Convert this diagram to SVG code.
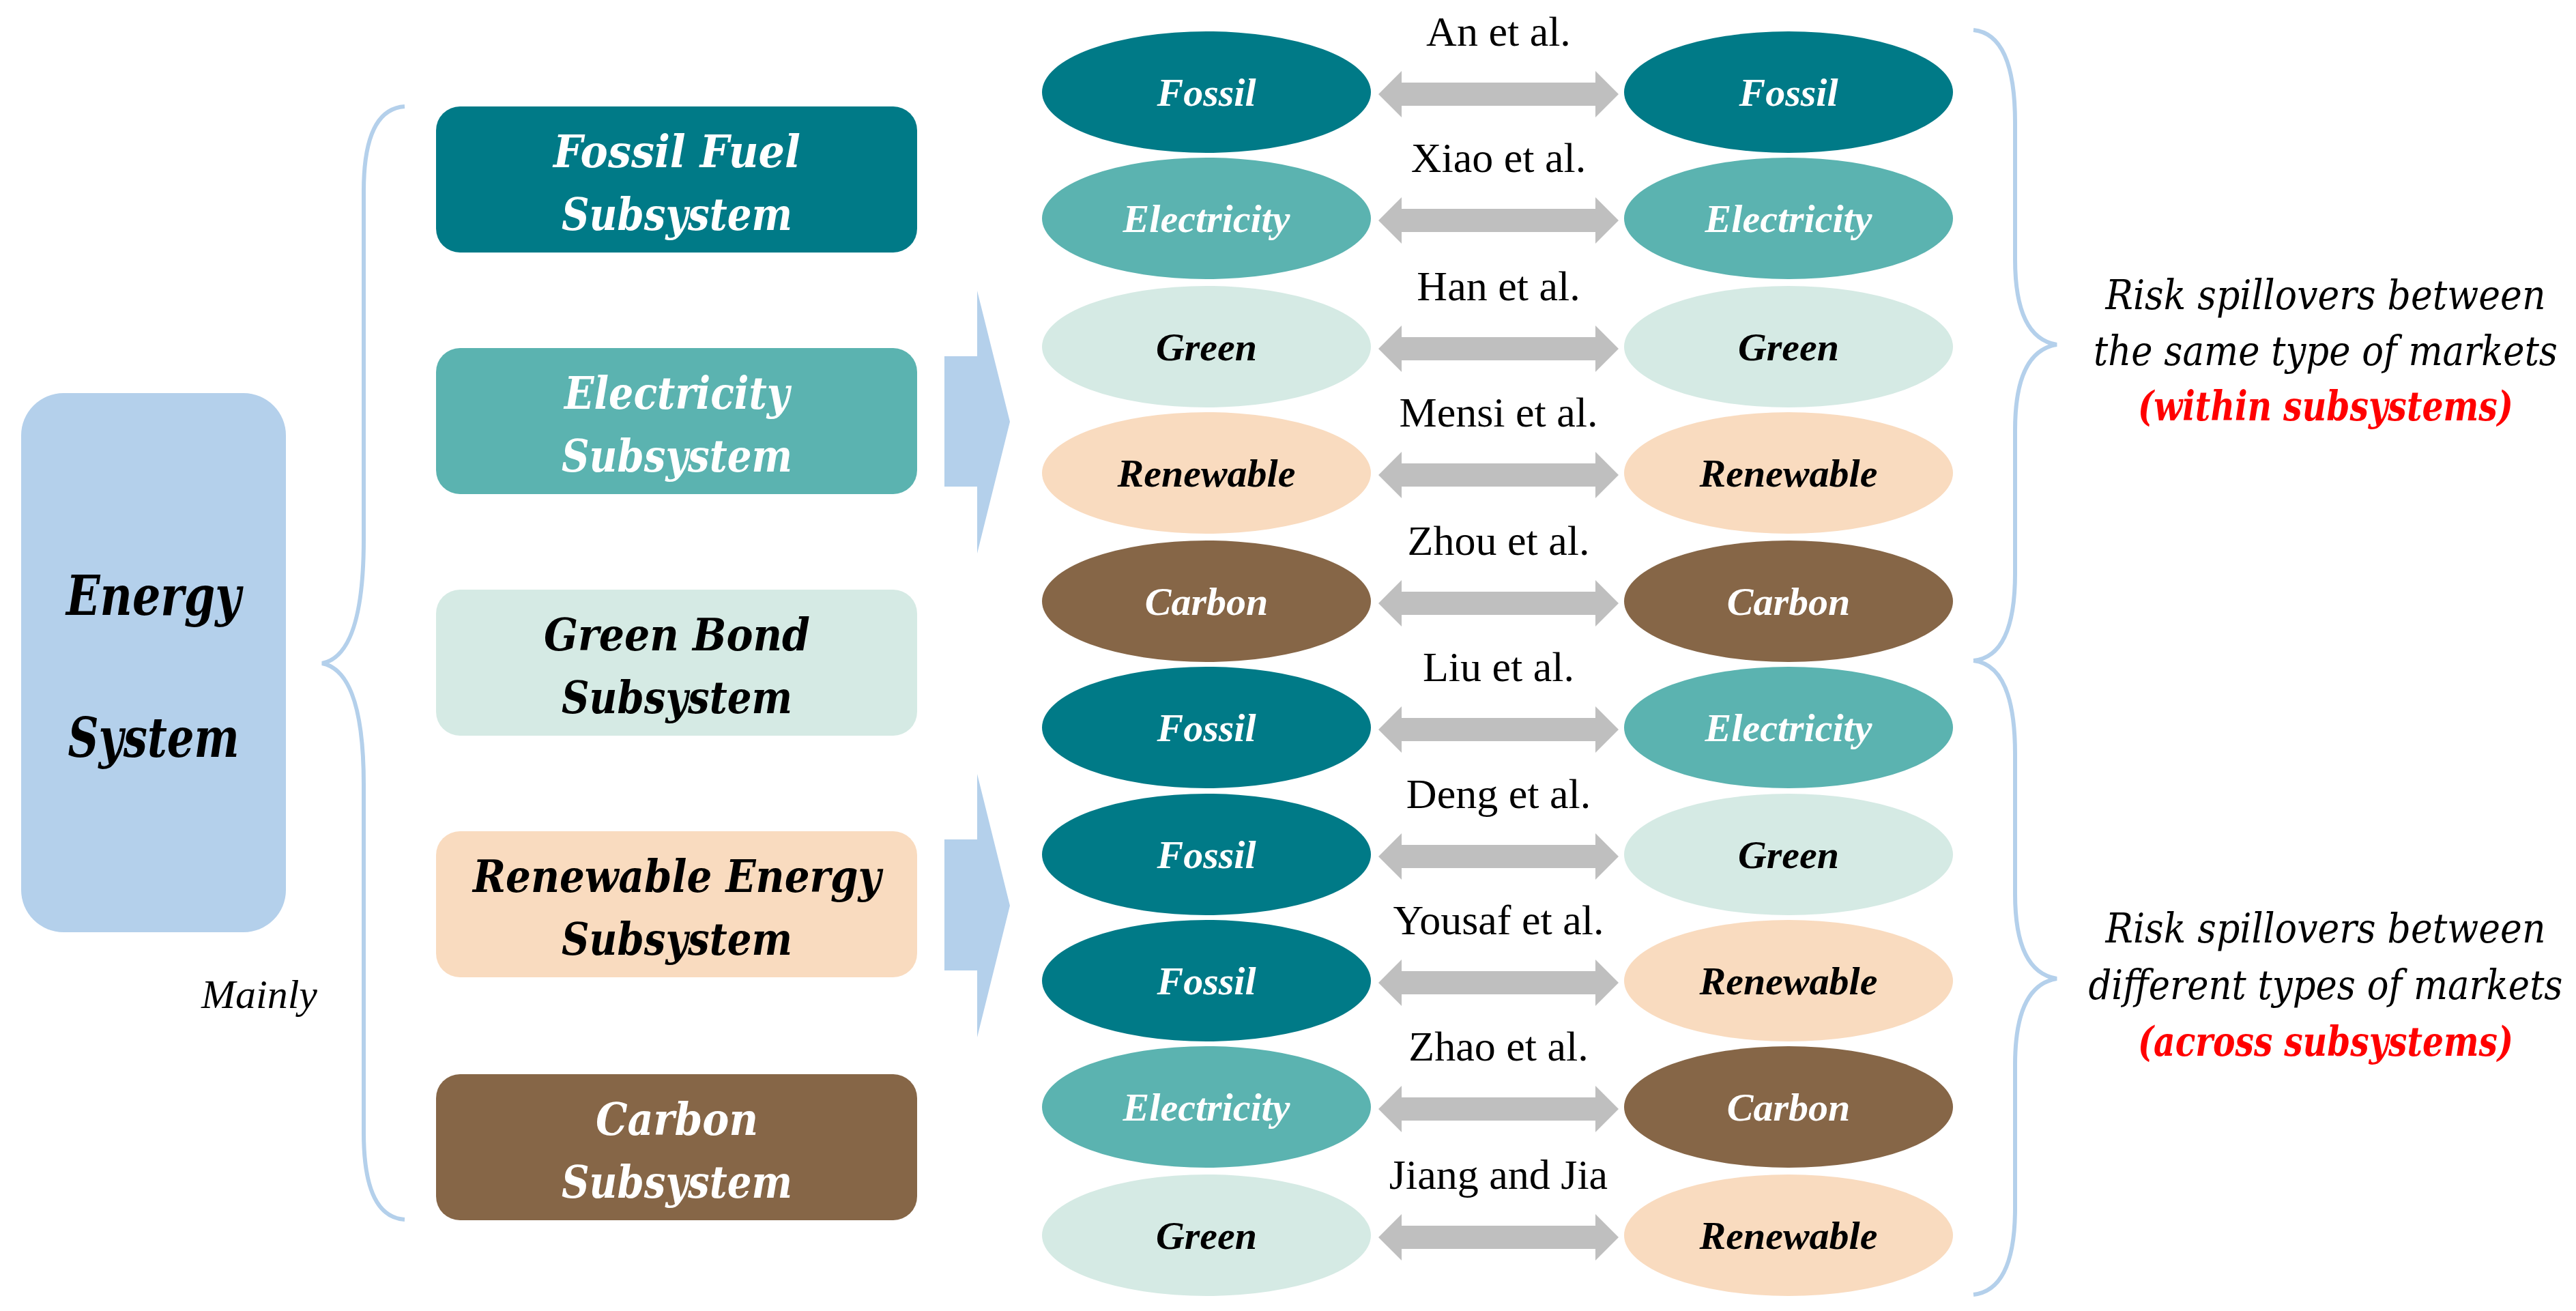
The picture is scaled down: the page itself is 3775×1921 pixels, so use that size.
<svg xmlns="http://www.w3.org/2000/svg" width="3775" height="1921" viewBox="0 0 3775 1921">
<style>
.bk{font-family:"DejaVu Serif",serif;font-style:italic;font-weight:bold;text-anchor:middle}
.ti{font-family:"Liberation Serif",serif;font-style:italic;font-weight:bold;font-size:58px;text-anchor:middle}
.lab{font-family:"Liberation Serif",serif;font-size:62px;text-anchor:middle;fill:#000}
.note{font-family:"DejaVu Serif",serif;font-style:italic;font-size:60px;text-anchor:middle}
.br{fill:none;stroke:#B4D0EB;stroke-width:6}
.w{fill:#fff}.k{fill:#000}
.fo{fill:#007A87}.el{fill:#5BB3B0}.gr{fill:#D5EAE4}.re{fill:#F9DBBF}.ca{fill:#866647}
</style>
<defs>
<path id="dar" d="M-176,0 L-142,-34 L-142,-17 L142,-17 L142,-34 L176,0 L142,34 L142,17 L-142,17 L-142,34 Z" fill="#BFBFBF"/>
</defs>
<rect width="3775" height="1921" fill="#fff"/>
<g id="energy">
<rect x="31" y="576" width="388" height="790" rx="62" fill="#B4D0EB"/>
<text class="bk k" x="225" y="901" font-size="80" textLength="256" lengthAdjust="spacingAndGlyphs">Energy</text>
<text class="bk k" x="225" y="1109" font-size="80" textLength="251" lengthAdjust="spacingAndGlyphs">System</text>
</g>
<g id="mainly"><text x="380" y="1477" font-family="Liberation Serif,serif" font-style="italic" font-size="60" text-anchor="middle">Mainly</text></g>
<g id="sub-fossil">
<rect x="639" y="156" width="705" height="214" rx="35" class="fo"/>
<text class="bk w" x="992" y="245" font-size="66" textLength="362" lengthAdjust="spacingAndGlyphs">Fossil Fuel</text>
<text class="bk w" x="992" y="337" font-size="66" textLength="338" lengthAdjust="spacingAndGlyphs">Subsystem</text>
</g>
<g id="sub-elec">
<rect x="639" y="510" width="705" height="214" rx="35" class="el"/>
<text class="bk w" x="992" y="599" font-size="66" textLength="330" lengthAdjust="spacingAndGlyphs">Electricity</text>
<text class="bk w" x="992" y="691" font-size="66" textLength="338" lengthAdjust="spacingAndGlyphs">Subsystem</text>
</g>
<g id="sub-green">
<rect x="639" y="864" width="705" height="214" rx="35" class="gr"/>
<text class="bk k" x="992" y="953" font-size="66" textLength="390" lengthAdjust="spacingAndGlyphs">Green Bond</text>
<text class="bk k" x="992" y="1045" font-size="66" textLength="338" lengthAdjust="spacingAndGlyphs">Subsystem</text>
</g>
<g id="sub-renew">
<rect x="639" y="1218" width="705" height="214" rx="35" class="re"/>
<text class="bk k" x="992" y="1307" font-size="66" textLength="598" lengthAdjust="spacingAndGlyphs">Renewable Energy</text>
<text class="bk k" x="992" y="1399" font-size="66" textLength="338" lengthAdjust="spacingAndGlyphs">Subsystem</text>
</g>
<g id="sub-carbon">
<rect x="639" y="1574" width="705" height="214" rx="35" class="ca"/>
<text class="bk w" x="992" y="1663" font-size="66" textLength="238" lengthAdjust="spacingAndGlyphs">Carbon</text>
<text class="bk w" x="992" y="1755" font-size="66" textLength="338" lengthAdjust="spacingAndGlyphs">Subsystem</text>
</g>
<g id="braces">
<path class="br" d="M593,156 Q533,160 533,280 L533,790 Q533,960 472,972 Q533,984 533,1150 L533,1660 Q533,1783 593,1787"/>
<path class="br" d="M2892,44 Q2953,50 2953,180 L2953,380 Q2953,495 3014,505 Q2953,515 2953,630 L2953,840 Q2953,962 2892,968"/>
<path class="br" d="M2892,968 Q2953,975 2953,1105 L2953,1310 Q2953,1424 3014,1434 Q2953,1444 2953,1560 L2953,1770 Q2953,1890 2892,1897"/>
</g>
<g id="bigarrows" fill="#B4D0EB">
<path d="M1384,522 L1432,522 L1432,426 L1480,618 L1432,811 L1432,713 L1384,713 Z"/>
<path d="M1384,1230 L1432,1230 L1432,1134 L1480,1327 L1432,1520 L1432,1422 L1384,1422 Z"/>
</g>
<g id="connectors">
<use href="#dar" x="2196" y="138"/>
<use href="#dar" x="2196" y="323"/>
<use href="#dar" x="2196" y="511"/>
<use href="#dar" x="2196" y="696"/>
<use href="#dar" x="2196" y="884"/>
<use href="#dar" x="2196" y="1069"/>
<use href="#dar" x="2196" y="1255"/>
<use href="#dar" x="2196" y="1440"/>
<use href="#dar" x="2196" y="1625"/>
<use href="#dar" x="2196" y="1813"/>
<text class="lab" x="2196" y="67">An et al.</text>
<text class="lab" x="2196" y="252">Xiao et al.</text>
<text class="lab" x="2196" y="440">Han et al.</text>
<text class="lab" x="2196" y="625">Mensi et al.</text>
<text class="lab" x="2196" y="813">Zhou et al.</text>
<text class="lab" x="2196" y="998">Liu et al.</text>
<text class="lab" x="2196" y="1184">Deng et al.</text>
<text class="lab" x="2196" y="1369">Yousaf et al.</text>
<text class="lab" x="2196" y="1554">Zhao et al.</text>
<text class="lab" x="2196" y="1742">Jiang and Jia</text>
</g>
<g id="r1l"><ellipse cx="1768" cy="135" rx="241" ry="89" class="fo"/><text class="ti w" x="1768" y="155">Fossil</text></g>
<g id="r1r"><ellipse cx="2621" cy="135" rx="241" ry="89" class="fo"/><text class="ti w" x="2621" y="155">Fossil</text></g>
<g id="r2l"><ellipse cx="1768" cy="320" rx="241" ry="89" class="el"/><text class="ti w" x="1768" y="340">Electricity</text></g>
<g id="r2r"><ellipse cx="2621" cy="320" rx="241" ry="89" class="el"/><text class="ti w" x="2621" y="340">Electricity</text></g>
<g id="r3l"><ellipse cx="1768" cy="508" rx="241" ry="89" class="gr"/><text class="ti k" x="1768" y="528">Green</text></g>
<g id="r3r"><ellipse cx="2621" cy="508" rx="241" ry="89" class="gr"/><text class="ti k" x="2621" y="528">Green</text></g>
<g id="r4l"><ellipse cx="1768" cy="693" rx="241" ry="89" class="re"/><text class="ti k" x="1768" y="713">Renewable</text></g>
<g id="r4r"><ellipse cx="2621" cy="693" rx="241" ry="89" class="re"/><text class="ti k" x="2621" y="713">Renewable</text></g>
<g id="r5l"><ellipse cx="1768" cy="881" rx="241" ry="89" class="ca"/><text class="ti w" x="1768" y="901">Carbon</text></g>
<g id="r5r"><ellipse cx="2621" cy="881" rx="241" ry="89" class="ca"/><text class="ti w" x="2621" y="901">Carbon</text></g>
<g id="r6l"><ellipse cx="1768" cy="1066" rx="241" ry="89" class="fo"/><text class="ti w" x="1768" y="1086">Fossil</text></g>
<g id="r6r"><ellipse cx="2621" cy="1066" rx="241" ry="89" class="el"/><text class="ti w" x="2621" y="1086">Electricity</text></g>
<g id="r7l"><ellipse cx="1768" cy="1252" rx="241" ry="89" class="fo"/><text class="ti w" x="1768" y="1272">Fossil</text></g>
<g id="r7r"><ellipse cx="2621" cy="1252" rx="241" ry="89" class="gr"/><text class="ti k" x="2621" y="1272">Green</text></g>
<g id="r8l"><ellipse cx="1768" cy="1437" rx="241" ry="89" class="fo"/><text class="ti w" x="1768" y="1457">Fossil</text></g>
<g id="r8r"><ellipse cx="2621" cy="1437" rx="241" ry="89" class="re"/><text class="ti k" x="2621" y="1457">Renewable</text></g>
<g id="r9l"><ellipse cx="1768" cy="1622" rx="241" ry="89" class="el"/><text class="ti w" x="1768" y="1642">Electricity</text></g>
<g id="r9r"><ellipse cx="2621" cy="1622" rx="241" ry="89" class="ca"/><text class="ti w" x="2621" y="1642">Carbon</text></g>
<g id="r10l"><ellipse cx="1768" cy="1810" rx="241" ry="89" class="gr"/><text class="ti k" x="1768" y="1830">Green</text></g>
<g id="r10r"><ellipse cx="2621" cy="1810" rx="241" ry="89" class="re"/><text class="ti k" x="2621" y="1830">Renewable</text></g>
<g id="note1">
<text class="note" x="3408" y="453" textLength="645" lengthAdjust="spacingAndGlyphs">Risk spillovers between</text>
<text class="note" x="3408" y="535" textLength="680" lengthAdjust="spacingAndGlyphs">the same type of markets</text>
<text class="note" x="3408" y="616" fill="#FF0000" font-weight="bold" textLength="550" lengthAdjust="spacingAndGlyphs">(within subsystems)</text>
</g>
<g id="note2">
<text class="note" x="3408" y="1381" textLength="645" lengthAdjust="spacingAndGlyphs">Risk spillovers between</text>
<text class="note" x="3408" y="1464" textLength="695" lengthAdjust="spacingAndGlyphs">different types of markets</text>
<text class="note" x="3408" y="1547" fill="#FF0000" font-weight="bold" textLength="550" lengthAdjust="spacingAndGlyphs">(across subsystems)</text>
</g>
</svg>
